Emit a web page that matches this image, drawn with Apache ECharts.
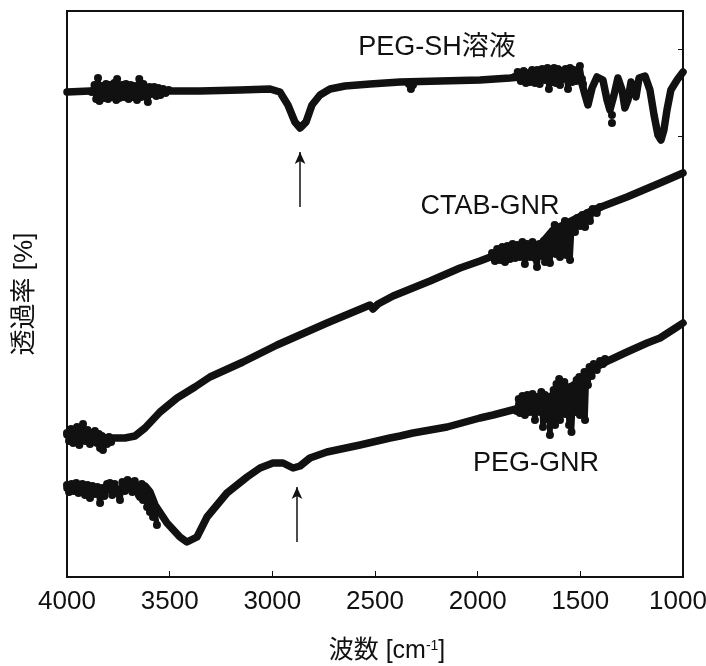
<!DOCTYPE html>
<html>
<head>
<meta charset="utf-8">
<script src="https://cdn.jsdelivr.net/npm/echarts@6/dist/echarts.min.js"></script>
<style>html,body{margin:0;padding:0;background:#fff;}#c{width:706px;height:666px;}</style>
</head>
<body>
<div id="c"></div>
<script>
// ---- axes ----
const xTicks = [4000, 3500, 3000, 2500, 2000, 1500, 1000];
const rightTicks = [105.6, 88.2];

// ---- PEG-SH solution (top trace) ----
const pegShWn = [4000,3888,3742,3547,3352,3157,3011,2963,2924,2890,2865,2836,2807,2768,2719,2646,2524,2378,2183,1989,1843,1745,1648,1550,1502,1477,1463,1443,1419,1390,1370,1356,1336,1317,1297,1283,1268,1253,1239,1229,1214,1185,1161,1141,1122,1107,1093,1078,1059,1029,1000];
const pegShT  = [97.0,97.2,97.2,97.2,97.2,97.4,97.6,97.0,94.4,91.0,89.8,91.0,94.4,96.4,97.6,98.2,98.6,99.0,99.2,99.4,99.8,100.2,100.6,100.6,100.2,96.4,94.4,97.8,100.0,99.4,95.4,93.4,96.4,99.8,97.4,93.8,95.4,99.0,97.4,96.0,99.8,100.2,97.4,92.4,88.4,87.4,89.4,93.4,97.4,99.4,101.0];
// noisy stretches (null = break between stretches)
const pegShNoiseWn = [3880,3866,3858,3849,3842,3830,3820,3810,3800,3791,3782,3770,3760,3756,3745,3732,3722,3713,3700,3690,3680,3670,3659,3648,3638,3628,3616,3606,3598,3590,3575,3565,3555,3545,3532,3520,3505,null,
  2335,2325,2315,null,
  1820,1805,1790,1776,1765,1752,1745,1735,1721,1710,1698,1686,1672,1660,1653,1645,1638,1628,1619,1609,1599,1590,1584,1572,1560,1550,1540,1531,1520,1511,1502,1492,1487];
const pegShNoiseT  = [97.0,98.4,95.6,99.8,95.2,98.2,95.8,98.6,95.6,98.4,96.0,98.8,95.4,99.6,95.8,98.4,96.0,98.6,95.6,98.4,96.0,98.2,95.4,99.6,96.0,98.6,96.2,95.0,98.0,96.6,98.0,96.2,97.8,96.4,97.6,96.8,97.4,null,
  98.6,97.6,98.4,null,
  100.0,101.0,99.2,101.2,98.8,100.8,99.0,101.4,98.8,101.4,98.6,101.6,99.4,101.8,97.6,101.2,99.0,101.8,98.8,101.6,98.4,101.2,99.6,101.6,97.6,101.8,99.0,101.4,99.2,101.0,102.2,99.6,98.6];
const pegShDotsWn = [1346, 1346];
const pegShDotsT  = [92.4, 90.8];

// ---- CTAB-GNR (middle trace) ----
const ctabWn = [4000,3937,3864,3791,3718,3669,3620,3547,3464,3377,3304,3143,2977,2734,2524,2510,2485,2412,2232,2086,1989,1925,1843,1760,1696,1662,1633,1536,1438,1273,1112,1000];
const ctabT  = [28.4,28.0,27.8,27.8,27.8,28.2,29.8,33.0,35.8,38.0,40.0,43.0,46.4,50.8,54.4,53.6,54.6,56.2,59.2,61.8,63.2,64.2,65.0,65.8,66.4,68.0,69.4,71.4,73.4,76.0,78.8,80.8];
const ctabNoiseWn = [4000,3990,3980,3970,3960,3951,3940,3930,3922,3912,3900,3888,3876,3864,3854,3845,3839,3830,3825,3815,3805,3795,3785,null,
  1930,1916,1905,1891,1880,1867,1855,1843,1830,1818,1806,1794,1782,1770,1758,1745,1733,1721,1711,1700,1687,1678,1672,1660,1648,1640,1633,1625,1619,1610,1599,1590,1580,1575,1568,1560,1550,1540,1526,1515,1502,1490,1477,1465,1453,1440,1420,1404];
const ctabNoiseT  = [28.8,27.2,29.6,26.8,29.2,30.0,26.4,29.0,30.6,27.2,29.4,26.6,28.8,29.2,26.8,28.6,25.8,28.2,25.4,27.8,26.6,28.0,27.0,null,
  64.8,63.2,65.6,63.4,66.0,63.0,66.2,63.6,66.6,63.8,66.4,64.0,67.0,62.6,66.6,64.0,67.0,63.8,62.0,66.6,64.2,67.2,63.0,66.8,62.8,68.4,66.0,70.4,64.6,69.8,64.0,70.0,65.6,71.2,64.4,70.4,63.4,71.0,69.0,71.8,70.2,72.4,70.0,72.8,71.2,73.6,72.8,74.0];

// ---- PEG-GNR (bottom trace) ----
const pegGnrWn = [4000,3888,3791,3693,3620,3596,3571,3513,3450,3416,3367,3318,3221,3123,3060,2997,2948,2899,2865,2817,2734,2573,2427,2378,2315,2149,1989,1925,1794,1672,1599,1526,1468,1356,1273,1175,1112,1029,1000];
const pegGnrT  = [17.8,17.6,17.4,17.8,18.2,17.0,14.4,10.8,8.0,7.0,8.0,12.0,16.8,20.0,21.8,22.8,22.8,21.8,22.2,23.8,25.0,26.4,27.8,28.2,28.8,30.0,31.8,32.4,33.8,35.4,37.4,38.4,41.0,43.4,45.0,46.8,47.8,50.0,50.8];
const pegGnrNoiseWn = [4000,3990,3978,3966,3955,3944,3937,3925,3912,3900,3888,3876,3864,3852,3839,3828,3818,3805,3791,3780,3768,3756,3742,3730,3718,3705,3693,3682,3670,3659,3650,3644,3636,3630,3620,3610,3603,3596,3590,3581,3575,3562,null,
  1810,1800,1794,1782,1770,1758,1745,1733,1721,1710,1696,1690,1682,1672,1664,1658,1648,1643,1638,1630,1623,1616,1609,1603,1599,1592,1584,1578,1575,1568,1560,1555,1550,1543,1536,1530,1526,1518,1511,1505,1502,1495,1487,1480,1477,1470,1463,1455,1445,1435,1420,1404,1390,1380];
const pegGnrNoiseT  = [18.4,17.0,18.6,17.2,18.8,16.8,17.4,18.6,16.4,18.4,15.8,18.2,16.6,18.0,14.8,17.8,16.2,18.6,18.8,16.4,18.6,17.0,15.4,19.0,17.2,19.4,19.0,17.0,19.2,18.0,16.4,16.0,18.6,15.4,17.6,14.0,16.0,13.0,15.2,12.0,13.8,10.4,null,
  33.2,35.6,32.8,36.2,32.4,36.4,33.0,36.6,31.4,36.0,33.0,37.0,30.0,36.4,31.6,35.8,28.4,33.4,31.0,37.4,30.4,38.6,33.4,39.6,31.4,38.0,34.0,39.0,32.6,37.0,35.4,30.4,36.8,29.0,34.4,38.4,33.0,39.4,34.0,40.0,32.4,39.6,35.4,41.0,31.4,40.0,38.4,42.0,40.2,42.6,41.4,43.2,42.6,43.6];

// ---- annotations ----
const labelTexts = ['PEG-SH溶液', 'CTAB-GNR', 'PEG-GNR'];
const labelWn = [2198, 1940, 1716];
const labelT  = [105.8, 74.0, 22.6];
const arrowWn = [2865, 2880];
const arrowFromT = [74.0, 7.0];
const arrowToT   = [85.0, 18.0];

const zip = (a, b) => a.map((v, i) => (v === null ? [null, null] : [v, b[i]]));
const FONT = '"Liberation Sans", Arial, "Noto Sans CJK JP", sans-serif';
const INK = '#111';

function lineSeries(name, wn, t) {
  return {
    name, type: 'line', data: zip(wn, t), showSymbol: false, symbol: 'none',
    lineStyle: { color: INK, width: 7.5, cap: 'round', join: 'round' },
    silent: true, z: 3
  };
}
function noiseSeries(name, wn, t) {
  return {
    name, type: 'line', data: zip(wn, t), connectNulls: false,
    showSymbol: true, symbol: 'circle', symbolSize: 8, showAllSymbol: true,
    itemStyle: { color: INK, opacity: 1, borderWidth: 0 },
    lineStyle: { color: INK, width: 5.5, join: 'round', cap: 'round' },
    silent: true, z: 3
  };
}
function dotSeries(name, wn, t) {
  return {
    name, type: 'scatter', data: zip(wn, t), symbol: 'circle', symbolSize: 8,
    itemStyle: { color: INK, opacity: 1 }, silent: true, z: 3
  };
}
function labelPoint(i) {
  return {
    coord: [labelWn[i], labelT[i]], symbol: 'circle', symbolSize: 0,
    label: { show: true, position: 'inside', formatter: labelTexts[i],
      fontFamily: FONT, fontSize: 27, color: INK }
  };
}
function arrowLine(i) {
  return [{ coord: [arrowWn[i], arrowFromT[i]] }, { coord: [arrowWn[i], arrowToT[i]] }];
}
const arrowStyle = { silent: true, symbol: ['none', 'arrow'], symbolSize: [8, 12],
  lineStyle: { color: INK, width: 1.5, type: 'solid' }, label: { show: false } };

const chart = echarts.init(document.getElementById('c'), null, { renderer: 'canvas' });
const s1 = lineSeries('PEG-SH', pegShWn, pegShT);
s1.markPoint = { silent: true, data: [labelPoint(0)] };
s1.markLine = Object.assign({ data: [arrowLine(0)] }, arrowStyle);
const s2 = lineSeries('CTAB-GNR', ctabWn, ctabT);
s2.markPoint = { silent: true, data: [labelPoint(1)] };
const s3 = lineSeries('PEG-GNR', pegGnrWn, pegGnrT);
s3.markPoint = { silent: true, data: [labelPoint(2)] };
s3.markLine = Object.assign({ data: [arrowLine(1)] }, arrowStyle);

const lastTick = xTicks[xTicks.length - 1];

chart.setOption({
  animation: false,
  backgroundColor: '#fff',
  grid: { left: 67, right: 23, top: 11, bottom: 89, show: true, containLabel: false,
    outerBoundsMode: 'none',
    borderColor: INK, borderWidth: 2, backgroundColor: 'transparent' },
  xAxis: {
    type: 'value', inverse: true, min: 1000, max: 4000, interval: 500,
    name: '波数 [cm{sup|-1}]', nameLocation: 'middle', nameGap: 62,
    nameTextStyle: { fontFamily: FONT, fontSize: 25, color: INK, padding: [0, 0, 0, 24],
      rich: { sup: { fontFamily: FONT, fontSize: 14, color: INK, verticalAlign: 'top', padding: [0,0,8,0] } } },
    axisLine: { show: false },
    axisTick: { show: true, inside: true, length: 6, lineStyle: { color: INK, width: 1 } },
    axisLabel: { fontFamily: FONT, fontSize: 26, color: INK, margin: 12,
      formatter: (v) => (v === lastTick ? '{r|' + v + '}' : String(v)),
      rich: { r: { fontFamily: FONT, fontSize: 26, color: INK, padding: [0, 10, 0, 0] } },
      showMinLabel: true, showMaxLabel: true, hideOverlap: false },
    splitLine: { show: false }
  },
  yAxis: [
    { type: 'value', min: 0, max: 113.2, position: 'right',
      axisLine: { show: false },
      axisTick: { show: true, inside: true, length: 5, lineStyle: { color: INK, width: 1 }, customValues: rightTicks },
      axisLabel: { show: false }, splitLine: { show: false } },
    { type: 'value', min: 0, max: 113.2, position: 'left',
      name: '透過率 [%]', nameLocation: 'middle', nameGap: 29, nameRotate: 90,
      nameTextStyle: { fontFamily: FONT, fontSize: 26, color: INK },
      axisLine: { show: false }, axisTick: { show: false },
      axisLabel: { show: false }, splitLine: { show: false } }
  ],
  series: [
    s1, noiseSeries('PEG-SH noise', pegShNoiseWn, pegShNoiseT), dotSeries('PEG-SH dots', pegShDotsWn, pegShDotsT),
    s2, noiseSeries('CTAB-GNR noise', ctabNoiseWn, ctabNoiseT),
    s3, noiseSeries('PEG-GNR noise', pegGnrNoiseWn, pegGnrNoiseT)
  ]
});
</script>
</body>
</html>
